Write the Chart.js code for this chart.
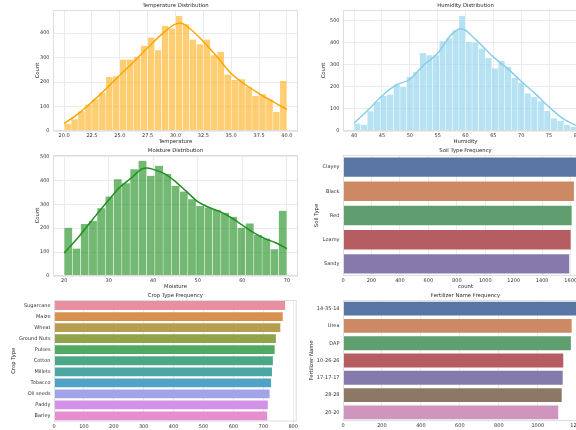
<!DOCTYPE html>
<html>
<head>
<meta charset="utf-8">
<script src="https://cdn.jsdelivr.net/npm/chart.js@4.4.1/dist/chart.umd.min.js"></script>
<style>
  html, body { margin:0; padding:0; background:#fff; overflow:hidden; width:576px; height:430px; }
  #fig { position:relative; width:600px; height:440px; }
  #fig canvas { position:absolute; }
</style>
</head>
<body>
<div id="fig">
  <canvas id="cTemp"></canvas>
  <canvas id="cHum"></canvas>
  <canvas id="cMoist"></canvas>
  <canvas id="cSoil"></canvas>
  <canvas id="cCrop"></canvas>
  <canvas id="cFert"></canvas>
</div>
<script>
'use strict';

/* ---- values ------------------------------------------------------------ */
// histograms: equal-width bins between the range ends
const TEMP_RANGE  = [20, 40];
const TEMP_COUNTS = [30, 48, 81, 108, 130, 157, 221, 224, 292, 292, 303, 348, 382, 330, 430, 419,
                     471, 436, 374, 355, 374, 310, 324, 231, 208, 212, 180, 143, 150, 130, 78, 204];
const TEMP_KDE_X  = [20, 21.25, 22.5, 23.75, 25, 26.25, 27.5, 28.75, 30, 30.5, 31.25, 32.5, 33.75, 35, 36.25, 37.5, 38.75, 40];
const TEMP_KDE_Y  = [30, 70, 119, 172, 228, 283, 340, 395, 437, 440, 420, 366, 302, 235, 190, 153, 120, 88];
const TEMP_XTICKS = [20, 22.5, 25, 27.5, 30, 32.5, 35, 37.5, 40];
const TEMP_YTICKS = [0, 100, 200, 300, 400];

const HUM_RANGE  = [40, 80];
const HUM_COUNTS = [34, 28, 89, 131, 159, 165, 210, 199, 245, 267, 353, 343, 343, 406, 419, 456,
                    521, 403, 400, 373, 331, 283, 316, 290, 240, 219, 170, 154, 135, 90, 58, 45, 28, 18];
const HUM_KDE_X  = [40, 42.5, 45, 47.5, 50, 52.5, 55, 57.5, 59.3, 61.6, 65, 67.5, 70, 72.5, 75, 77.5, 80];
const HUM_KDE_Y  = [36, 95, 158, 207, 234, 298, 351, 437, 462, 419, 335, 283, 225, 169, 109, 56, 23];
const HUM_XTICKS = [40, 45, 50, 55, 60, 65, 70, 75, 80];
const HUM_YTICKS = [0, 100, 200, 300, 400, 500];

const MOIST_RANGE  = [20, 70];
const MOIST_COUNTS = [202, 115, 217, 230, 283, 332, 405, 388, 447, 482, 419, 461, 427, 377,
                      353, 321, 293, 287, 276, 265, 248, 202, 220, 171, 157, 112, 273];
const MOIST_KDE_X  = [20, 22.5, 25, 27.5, 30, 32.5, 35, 37.5, 38.5, 40, 42.5, 45, 47.5, 50, 52.5, 55, 57.5, 60, 62.5, 65, 67.5, 70];
const MOIST_KDE_Y  = [96, 147, 204, 262, 318, 371, 409, 448, 452, 446, 428, 395, 353, 311, 287, 269, 244, 213, 181, 157, 139, 115];
const MOIST_XTICKS = [20, 30, 40, 50, 60, 70];
const MOIST_YTICKS = [0, 100, 200, 300, 400, 500];

// frequency bars
const SOIL_TYPES  = ['Clayey', 'Black', 'Red', 'Loamy', 'Sandy'];
const SOIL_COUNTS = [1640, 1623, 1607, 1600, 1590];
const SOIL_TICKS  = [0, 200, 400, 600, 800, 1000, 1200, 1400, 1600];

const CROP_TYPES  = ['Sugarcane', 'Maize', 'Wheat', 'Ground Nuts', 'Pulses', 'Cotton', 'Millets',
                     'Tobacco', 'Oil seeds', 'Paddy', 'Barley'];
const CROP_COUNTS = [773, 765, 757, 742, 738, 732, 729, 726, 721, 715, 713];
const CROP_TICKS  = [0, 100, 200, 300, 400, 500, 600, 700, 800];

const FERT_NAMES  = ['14-35-14', 'Urea', 'DAP', '10-26-26', '17-17-17', '28-28', '20-20'];
const FERT_COUNTS = [1198, 1174, 1170, 1131, 1128, 1123, 1105];
const FERT_TICKS  = [0, 200, 400, 600, 800, 1000, 1200];

/* ---- look ---------------------------------------------------------------- */
const FONT = "'DejaVu Sans', sans-serif";
const TICK_PX = 5, LABEL_PX = 5.3, LH = 1.2;
const INK = '#262626', GRID = '#ebebeb', SPINE = '#dedede';
const DEEP = ['#5975a4', '#cc8963', '#5f9e6e', '#b55d60', '#857aab', '#8d7866', '#d095bf'];
const HUSL = ['#e88fa0', '#d8914f', '#b89d50', '#91a348', '#52aa62', '#4ca887', '#4ea6a2',
              '#50a3c4', '#a2a4ea', '#d391e8', '#e68ecf'];

Chart.defaults.font.family = FONT;
Chart.defaults.font.size = TICK_PX;
Chart.defaults.color = '#333';
Chart.defaults.animation = false;
Chart.defaults.plugins.legend.display = false;
Chart.defaults.plugins.tooltip.enabled = false;

/* title above the plot area + light frame round it (seaborn whitegrid) */
const panelTitle = {
  id: 'panelTitle',
  afterDraw(chart, args, o) {
    const { ctx, chartArea: a } = chart;
    ctx.save();
    ctx.font = LABEL_PX + 'px ' + FONT;
    ctx.fillStyle = INK;
    ctx.textAlign = 'center';
    ctx.textBaseline = 'middle';
    ctx.fillText(o.text, (a.left + a.right) / 2, a.top - 4.3);
    ctx.restore();
  }
};
const frame = {
  id: 'frame',
  afterDatasetsDraw(chart) {
    const { ctx, chartArea: a } = chart;
    ctx.save();
    ctx.strokeStyle = SPINE;
    ctx.lineWidth = 1;
    ctx.strokeRect(a.left + 0.5, a.top + 0.5, a.width - 1, a.height - 1);
    ctx.restore();
  }
};

/* ---- layout: canvas box, plot rect, axis-label centres (page px) -------- */
const L_TEMP  = { box:{x:0,   y:0,   w:300, h:148}, plot:{x:53,  y:10,  w:245, h:121}, xLab:141.7, yLab:37.5 };
const L_HUM   = { box:{x:300, y:0,   w:300, h:148}, plot:{x:343, y:10,  w:245, h:121}, xLab:141.7, yLab:324 };
const L_MOIST = { box:{x:0,   y:146, w:300, h:147}, plot:{x:53,  y:155, w:245, h:121}, xLab:287,   yLab:37.5 };
const L_SOIL  = { box:{x:300, y:146, w:300, h:147}, plot:{x:343, y:155, w:245, h:121}, xLab:287,   yLab:317 };
const L_CROP  = { box:{x:0,   y:291, w:300, h:149}, plot:{x:54,  y:300, w:244.5, h:121.5}, xLab:433, yLab:14 };
const L_FERT  = { box:{x:300, y:291, w:300, h:149}, plot:{x:343, y:300, w:245, h:121}, xLab:433,   yLab:311.7 };

function place(id, L) {
  const c = document.getElementById(id);
  c.width = L.box.w; c.height = L.box.h;
  c.style.left = L.box.x + 'px'; c.style.top = L.box.y + 'px';
  c.style.width = L.box.w + 'px'; c.style.height = L.box.h + 'px';
  return c;
}
function padding(L) {
  return { top: L.plot.y - L.box.y, left: 0, bottom: 0,
           right: L.box.x + L.box.w - (L.plot.x + L.plot.w) };
}
const fixTicks = (vals) => (s) => { s.ticks = vals.map(v => ({ value: v })); };

function xAxis(L, text, min, max, ticks, fmt) {
  const lh = LABEL_PX * LH;
  return {
    type: 'linear', position: 'bottom', min, max, offset: false, bounds: 'data',
    afterBuildTicks: fixTicks(ticks),
    afterFit: (s) => { s.height = L.box.y + L.box.h - (L.plot.y + L.plot.h); },
    ticks: { padding: 2, maxRotation: 0, autoSkip: false, callback: fmt },
    grid: { color: GRID, lineWidth: 1, drawTicks: false, offset: false },
    border: { display: false },
    title: { display: true, text, color: INK, font: { size: LABEL_PX },
             padding: { top: 0, bottom: L.box.y + L.box.h - L.xLab - lh / 2 } }
  };
}
function yTitle(L, text) {
  const lh = LABEL_PX * LH;
  return { display: true, text, color: INK, font: { size: LABEL_PX },
           padding: { top: L.yLab - L.box.x - lh / 2, bottom: 0 } };
}

/* ---- histogram + kde ------------------------------------------------------ */
function histogram(id, L, title, xLabel, range, counts, kx, ky, xt, yt, fmt, barColor, lineColor) {
  const w = (range[1] - range[0]) / counts.length;
  const bars = counts.map((c, i) => ({ x: range[0] + (i + 0.5) * w, y: c }));
  const kde = kx.map((x, i) => ({ x, y: ky[i] }));
  const span = range[1] - range[0];
  const ymax = Math.max(...counts) * 1.05;
  return new Chart(place(id, L), {
    type: 'bar',
    data: { datasets: [
      { type: 'line', data: kde, borderColor: lineColor, borderWidth: 1.5, pointRadius: 0,
        cubicInterpolationMode: 'monotone', fill: false, order: 0 },
      { type: 'bar', data: bars, backgroundColor: barColor, borderColor: '#ffffff',
        borderWidth: { left: 0.5, right: 0.5, top: 0, bottom: 0 }, borderSkipped: false,
        barPercentage: 1, categoryPercentage: 1, order: 1 }
    ] },
    options: {
      responsive: false, maintainAspectRatio: false,
      layout: { padding: padding(L) },
      scales: {
        x: xAxis(L, xLabel, range[0] - span * 0.05, range[1] + span * 0.05, xt, fmt),
        y: {
          min: 0, max: ymax, afterBuildTicks: fixTicks(yt),
          afterFit: (s) => { s.width = L.plot.x - L.box.x; },
          ticks: { padding: 3.5 },
          grid: { color: GRID, lineWidth: 1, drawTicks: false },
          border: { display: false },
          title: yTitle(L, 'Count')
        }
      },
      plugins: { panelTitle: { text: title } }
    },
    plugins: [panelTitle, frame]
  });
}

/* ---- horizontal frequency bars ------------------------------------------- */
function freqBars(id, L, title, yLabel, cats, counts, ticks, colors) {
  return new Chart(place(id, L), {
    type: 'bar',
    data: { labels: cats, datasets: [{ data: counts, backgroundColor: colors.slice(0, cats.length),
            barPercentage: 1, categoryPercentage: 0.8 }] },
    options: {
      indexAxis: 'y', responsive: false, maintainAspectRatio: false,
      layout: { padding: padding(L) },
      scales: {
        x: xAxis(L, 'count', 0, Math.max(...counts) * 1.05, ticks, (v) => v),
        y: {
          type: 'category',
          afterFit: (s) => { s.width = L.plot.x - L.box.x; },
          ticks: { padding: 3.5, autoSkip: false },
          grid: { display: false, drawTicks: false },
          border: { display: false },
          title: yTitle(L, yLabel)
        }
      },
      plugins: { panelTitle: { text: title } }
    },
    plugins: [panelTitle, frame]
  });
}

histogram('cTemp', L_TEMP, 'Temperature Distribution', 'Temperature', TEMP_RANGE, TEMP_COUNTS,
          TEMP_KDE_X, TEMP_KDE_Y, TEMP_XTICKS, TEMP_YTICKS, (v) => Number(v).toFixed(1),
          'rgba(255,165,0,0.55)', '#ffa500');
histogram('cHum', L_HUM, 'Humidity Distribution', 'Humidity', HUM_RANGE, HUM_COUNTS,
          HUM_KDE_X, HUM_KDE_Y, HUM_XTICKS, HUM_YTICKS, (v) => v,
          'rgba(135,206,235,0.6)', '#87ceeb');
histogram('cMoist', L_MOIST, 'Moisture Distribution', 'Moisture', MOIST_RANGE, MOIST_COUNTS,
          MOIST_KDE_X, MOIST_KDE_Y, MOIST_XTICKS, MOIST_YTICKS, (v) => v,
          'rgba(0,128,0,0.55)', '#1f8f1f');
freqBars('cSoil', L_SOIL, 'Soil Type Frequency', 'Soil Type', SOIL_TYPES, SOIL_COUNTS, SOIL_TICKS, DEEP);
freqBars('cCrop', L_CROP, 'Crop Type Frequency', 'Crop Type', CROP_TYPES, CROP_COUNTS, CROP_TICKS, HUSL);
freqBars('cFert', L_FERT, 'Fertilizer Name Frequency', 'Fertilizer Name', FERT_NAMES, FERT_COUNTS, FERT_TICKS, DEEP);
</script>
</body>
</html>
